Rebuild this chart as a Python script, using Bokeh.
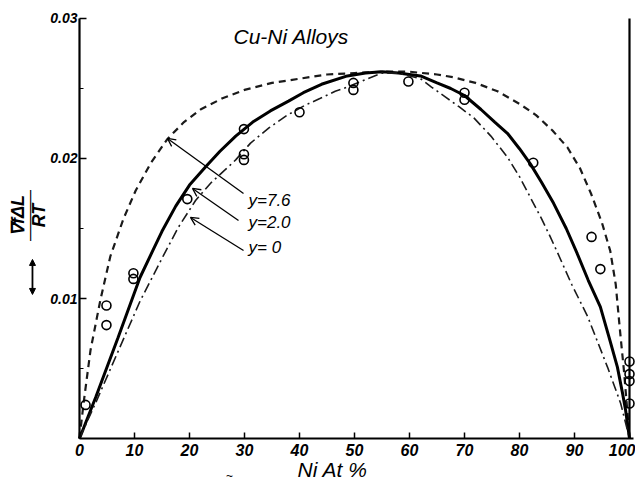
from math import pi
from bokeh.plotting import figure
from bokeh.models import (Range1d, FixedTicker, Label, Arrow, OpenHead, NormalHead,
                          LinearAxis, ColumnDataSource)
from bokeh.embed import file_html
from bokeh.resources import INLINE

# ---------------- data ----------------
ni_y76 = [0, 0.8, 2.0, 3.8, 5.6, 8.0, 10.2, 13.0, 16.0, 19.0, 22.0, 26.0, 30.0, 35.0,
          40.0, 45.0, 50.0, 55.0, 60.0, 65.0, 68.0, 72.0, 76.0, 80.0, 83.0, 86.0,
          88.7, 91.0, 93.0, 95.0, 96.5, 97.5, 98.2, 99.0, 99.6, 100]
val_y76 = [0, 0.0027, 0.0063, 0.0099, 0.0130, 0.0157, 0.0177, 0.0197, 0.0214, 0.0226,
           0.0235, 0.0243, 0.0249, 0.0254, 0.0257, 0.0260, 0.0261, 0.0262, 0.0262,
           0.0260, 0.0258, 0.0254, 0.0248, 0.0239, 0.0231, 0.0220, 0.0208, 0.0193,
           0.0175, 0.0154, 0.0134, 0.0110, 0.0080, 0.0048, 0.0020, 0]

ni_y20 = [0, 3.0, 7.0, 11.0, 13.3, 15.0, 17.5, 20.0, 22.9, 25.5, 28.4, 31.5, 34.7, 38.0,
          40.7, 44.0, 48.7, 52.0, 55.0, 58.0, 62.0, 65.0, 67.5, 70.0, 73.0, 75.5,
          77.8, 80.0, 82.0, 84.0, 86.2, 88.5, 90.5, 92.5, 94.7, 96.3, 97.8, 98.7,
          99.3, 100]
val_y20 = [0, 0.0030, 0.0072, 0.0115, 0.0134, 0.0148, 0.0166, 0.0181, 0.0194, 0.0205,
           0.0216, 0.0226, 0.0234, 0.0241, 0.0247, 0.0253, 0.0259, 0.0261, 0.0262,
           0.0261, 0.0259, 0.0254, 0.0250, 0.0245, 0.0235, 0.0226, 0.0218, 0.0207,
           0.0196, 0.0183, 0.0168, 0.0150, 0.0132, 0.0113, 0.0094, 0.0072, 0.0051,
           0.0033, 0.0020, 0]

ni_y0 = [0, 3.0, 7.1, 11.0, 15.3, 18.0, 21.1, 24.0, 26.5, 28.4, 31.1, 34.5, 37.8,
         41.0, 43.8, 46.5, 48.7, 52.4, 55.0, 58.0, 62.0, 64.0, 66.5, 69.0, 71.7,
         74.8, 77.8, 80.0, 82.0, 84.0, 85.6, 87.0, 89.5, 92.4, 94.3, 96.0, 97.3,
         98.4, 100]
val_y0 = [0, 0.0026, 0.0063, 0.0098, 0.0131, 0.0151, 0.0170, 0.0183, 0.0192, 0.0199,
          0.0211, 0.0222, 0.0231, 0.0238, 0.0243, 0.0248, 0.0251, 0.0257, 0.0261,
          0.0261, 0.0257, 0.0251, 0.0244, 0.0237, 0.0229, 0.0216, 0.0201, 0.0187,
          0.0172, 0.0157, 0.0144, 0.0132, 0.0110, 0.0087, 0.0068, 0.0051, 0.0037,
          0.0025, 0]

obs_ni = [1.1, 4.9, 4.9, 9.8, 9.8, 19.6, 29.9, 29.9, 29.9, 40.0, 49.8, 49.8, 59.8,
          70.0, 70.0, 82.5, 93.1, 94.7, 100.0, 100.0, 100.0, 100.0]
obs_val = [0.0024, 0.0095, 0.0081, 0.0118, 0.0114, 0.0171, 0.0221, 0.0203, 0.0199,
           0.0233, 0.0254, 0.0249, 0.0255, 0.0247, 0.0242, 0.0197, 0.0144, 0.0121,
           0.0055, 0.0046, 0.0041, 0.0025]

x_ticks = [0, 10, 20, 30, 40, 50, 60, 70, 80, 90, 100]
x_tick_labels = ["0", "10", "20", "30", "40", "50", "60", "70", "80", "90", "100"]
y_ticks = [0.01, 0.02, 0.03]
y_tick_labels = ["0.01", "0.02", "0.03"]
y_minor_ticks = [0.005, 0.015, 0.025]

curve_names = ["y=7.6", "y=2.0", "y= 0"]
title_text = "Cu-Ni   Alloys"
x_title = "Ni  At %"
y_title_top = "\u2207f\u0394L"
y_title_bottom = "RT"

# ---------------- figure ----------------
FONT = "Liberation Sans"
# the plotting frame fills the canvas; the axes sit at fixed data positions
p = figure(width=635, height=484,
           x_range=Range1d(-14.3636, 101.0909), y_range=Range1d(-0.0032857, 0.0312857),
           output_backend="svg", toolbar_location=None,
           min_border_left=0, min_border_right=0, min_border_top=0, min_border_bottom=0)
p.outline_line_color = None
p.xgrid.visible = False
p.ygrid.visible = False
p.background_fill_color = "white"
p.border_fill_color = "white"

p.xaxis.fixed_location = 0
p.yaxis.fixed_location = 0
p.xaxis.bounds = (0, 100.8)
p.yaxis.bounds = (0, 0.03)
p.xaxis.ticker = FixedTicker(ticks=x_ticks)
p.xaxis.major_label_overrides = dict(zip(x_ticks, x_tick_labels))
p.yaxis.ticker = FixedTicker(ticks=y_ticks, minor_ticks=y_minor_ticks)
p.yaxis.major_label_overrides = dict(zip(y_ticks, y_tick_labels))
for ax in (p.xaxis, p.yaxis):
    ax.axis_line_width = 2.2
    ax.axis_line_color = "black"
    ax.major_tick_line_color = "black"
    ax.major_tick_line_width = 1.5
    ax.major_tick_out = 0
    ax.minor_tick_out = 0
    ax.major_label_text_font = FONT
    ax.major_label_text_font_style = "bold italic"
    ax.major_label_text_color = "black"
p.xaxis.major_tick_in = 6
p.xaxis.minor_tick_line_color = None
p.xaxis.major_label_text_font_size = "16px"
p.xaxis.major_label_standoff = 5
p.yaxis.major_tick_in = 7
p.yaxis.minor_tick_in = 4
p.yaxis.minor_tick_line_color = "black"
p.yaxis.minor_tick_line_width = 1.2
p.yaxis.major_label_text_font_size = "14px"
p.yaxis.major_label_standoff = 2

# right frame line (an axis without ticks or labels)
right = LinearAxis(fixed_location=100, bounds=(0, 0.03), axis_line_width=2.2,
                   axis_line_color="black", major_tick_line_color=None,
                   minor_tick_line_color=None, major_label_text_font_size="0px",
                   ticker=FixedTicker(ticks=[]))
p.add_layout(right, "right")

# curves
p.line(ni_y76, val_y76, line_color="#1a1a1a", line_width=2.2, line_dash="7 5")
p.line(ni_y20, val_y20, line_color="black", line_width=3)
p.line(ni_y0, val_y0, line_color="#1a1a1a", line_width=1.6, line_dash="10 4 2 4")

# observations
src = ColumnDataSource(dict(x=obs_ni, y=obs_val))
p.scatter("x", "y", source=src, marker="circle", size=9, fill_color=None,
          line_color="black", line_width=1.6)

# curve labels with arrows
label_y = [0.0170, 0.01543, 0.01364]
for name, ly in zip(curve_names, label_y):
    p.add_layout(Label(x=30.73, y=ly, text=name, text_font=FONT, text_font_style="italic",
                       text_font_size="17px", text_color="black",
                       text_baseline="middle", text_align="left"))

arrows = [((29.82, 0.0175), (16.0, 0.02143)),
          ((28.91, 0.01557), (20.55, 0.01786)),
          ((29.82, 0.01343), (20.18, 0.01579))]
for (xs, ys), (xe, ye) in arrows:
    p.add_layout(Arrow(x_start=xs, y_start=ys, x_end=xe, y_end=ye, line_width=1.3,
                       line_color="black",
                       end=OpenHead(size=8, line_width=1.3, line_color="black")))

# title
p.add_layout(Label(x=28.0, y=0.02871, text=title_text, text_font=FONT,
                   text_font_style="italic", text_font_size="21px", text_color="black",
                   text_baseline="middle", text_align="left"))

# x title
p.add_layout(Label(x=46.55, y=-0.00224, text=x_title, text_font=FONT,
                   text_font_style="italic", text_font_size="21px", text_color="black",
                   text_baseline="middle", text_align="center"))
p.add_layout(Label(x=27.27, y=-0.00265, text="~", text_font=FONT, text_color="black",
                   text_font_size="12px", text_baseline="middle", text_align="center"))

# y title (rotated fraction)
p.add_layout(Label(x=-11.27, y=0.01593, text=y_title_top, text_font=FONT,
                   text_font_style="bold italic", text_font_size="18px", angle=pi / 2,
                   text_color="black", text_baseline="middle", text_align="center"))
p.add_layout(Label(x=-9.09, y=0.01593, text="\u2014\u2014\u2014", text_font=FONT,
                   text_font_size="17px", angle=pi / 2, text_color="black",
                   text_baseline="middle", text_align="center"))
p.add_layout(Label(x=-7.45, y=0.01593, text=y_title_bottom, text_font=FONT,
                   text_font_style="bold italic", text_font_size="18px", angle=pi / 2,
                   text_color="black", text_baseline="middle", text_align="center"))
# small vertical double arrow under the y title
p.add_layout(Arrow(x_start=-8.55, y_start=0.01029, x_end=-8.55, y_end=0.01279,
                   line_width=1.8, line_color="black",
                   start=NormalHead(size=6, line_color="black", fill_color="black"),
                   end=NormalHead(size=6, line_color="black", fill_color="black")))

open("out.html", "w").write(file_html(p, INLINE))
